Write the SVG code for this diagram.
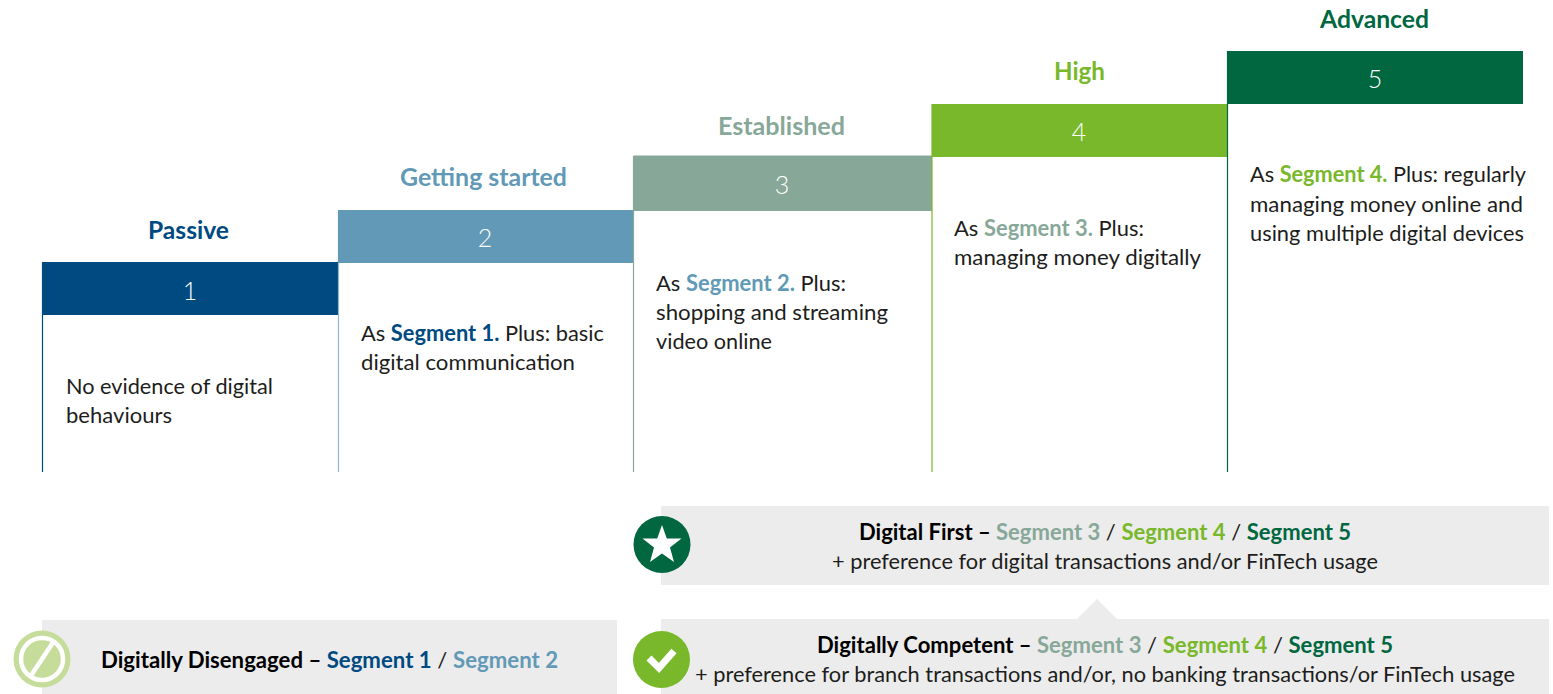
<svg xmlns="http://www.w3.org/2000/svg" width="1553" height="694" viewBox="0 0 1553 694">
<style>
text{font-family:"Lato","Noto Sans",sans-serif;font-size:22px;fill:#1d1d1b}
.b{font-weight:700}
.t{font-size:25px;font-weight:700}
.n{font-size:25px;fill:#fff;text-anchor:middle;font-weight:300}
.k{fill:#000;font-weight:700}
.c1{fill:#004a82}.c2{fill:#6199b6}.c3{fill:#87a898}.c4{fill:#78b82a}.c5{fill:#006741}
.band{fill:#ececec}
.s1{stroke:#004a82}.s2{stroke:#8fb6cb}.s3{stroke:#87a898}.s4{stroke:#78b82a}.s5{stroke:#006741}
.rule{stroke-width:1.2}
</style>
<g id="connectors"><polygon class="band" points="1076,620 1097,599 1118,620"/></g>
<g id="segment-1">
<line class="rule s1" x1="42.500" y1="263" x2="42.500" y2="472"/>
<rect class="c1" x="42" y="262" width="296" height="53"/>
<text class="t c1" x="148" y="239" textLength="81" lengthAdjust="spacingAndGlyphs">Passive</text>
<text class="n" x="190" y="300">1</text>
<text x="66" y="394" textLength="207" lengthAdjust="spacingAndGlyphs">No evidence of digital</text>
<text x="66" y="423" textLength="106" lengthAdjust="spacingAndGlyphs">behaviours</text>
</g>
<g id="segment-2">
<line class="rule s2" x1="338.500" y1="210" x2="338.500" y2="472"/>
<rect class="c2" x="338" y="210" width="296" height="53"/>
<text class="t c2" x="400" y="186" textLength="167" lengthAdjust="spacingAndGlyphs">Getting started</text>
<text class="n" x="485" y="247">2</text>
<text x="361" y="341" textLength="243" lengthAdjust="spacingAndGlyphs">As <tspan class="b c1">Segment 1.</tspan> Plus: basic</text>
<text x="361" y="370" textLength="214" lengthAdjust="spacingAndGlyphs">digital communication</text>
</g>
<g id="segment-3">
<line class="rule s3" x1="633.500" y1="156" x2="633.500" y2="472"/>
<rect class="c3" x="633.500" y="155.500" width="298.500" height="55.500"/>
<text class="t c3" x="718" y="135" textLength="127" lengthAdjust="spacingAndGlyphs">Established</text>
<text class="n" x="782" y="194">3</text>
<text x="656" y="291" textLength="190" lengthAdjust="spacingAndGlyphs">As <tspan class="b c2">Segment 2.</tspan> Plus:</text>
<text x="656" y="320" textLength="232" lengthAdjust="spacingAndGlyphs">shopping and streaming</text>
<text x="656" y="349" textLength="116" lengthAdjust="spacingAndGlyphs">video online</text>
</g>
<g id="segment-4">
<line class="rule s4" x1="932" y1="104" x2="932" y2="472"/>
<rect class="c4" x="932" y="104" width="295" height="53"/>
<text class="t c4" x="1054" y="80" textLength="51" lengthAdjust="spacingAndGlyphs">High</text>
<text class="n" x="1079" y="141">4</text>
<text x="954" y="236" textLength="190" lengthAdjust="spacingAndGlyphs">As <tspan class="b c3">Segment 3.</tspan> Plus:</text>
<text x="954" y="265" textLength="247" lengthAdjust="spacingAndGlyphs">managing money digitally</text>
</g>
<g id="segment-5">
<line class="rule s5" x1="1227.500" y1="51" x2="1227.500" y2="472"/>
<rect class="c5" x="1227" y="51" width="296" height="53"/>
<text class="t c5" x="1320" y="28" textLength="109" lengthAdjust="spacingAndGlyphs">Advanced</text>
<text class="n" x="1375" y="88">5</text>
<text x="1250" y="182" textLength="276" lengthAdjust="spacingAndGlyphs">As <tspan class="b c4">Segment 4.</tspan> Plus: regularly</text>
<text x="1250" y="212" textLength="273" lengthAdjust="spacingAndGlyphs">managing money online and</text>
<text x="1250" y="241" textLength="274" lengthAdjust="spacingAndGlyphs">using multiple digital devices</text>
</g>
<g id="digital-first">
<rect class="band" x="661" y="506" width="888" height="79"/>
<circle class="c5" cx="662" cy="544.500" r="28.500"/>
<polygon fill="#fff" points="662,525 666.800,538.500 681.500,538.500 670,547.500 674,562 662,553.500 650,562 654,547.500 642.500,538.500 657.200,538.500"/>
<text x="859" y="540" textLength="492" lengthAdjust="spacingAndGlyphs"><tspan class="k">Digital First – </tspan><tspan class="b c3">Segment 3</tspan> / <tspan class="b c4">Segment 4</tspan> / <tspan class="b c5">Segment 5</tspan></text>
<text x="832" y="569" textLength="546" lengthAdjust="spacingAndGlyphs">+ preference for digital transactions and/or FinTech usage</text>
</g>
<g id="digitally-competent">
<rect class="band" x="661" y="619" width="888" height="75"/>
<circle class="c4" cx="661.500" cy="659.500" r="28.500"/>
<polyline points="649,658 659,668 674,651" fill="none" stroke="#fff" stroke-width="7"/>
<text x="817" y="653" textLength="576" lengthAdjust="spacingAndGlyphs"><tspan class="k">Digitally Competent – </tspan><tspan class="b c3">Segment 3</tspan> / <tspan class="b c4">Segment 4</tspan> / <tspan class="b c5">Segment 5</tspan></text>
<text x="695" y="682" textLength="820" lengthAdjust="spacingAndGlyphs">+ preference for branch transactions and/or, no banking transactions/or FinTech usage</text>
</g>
<g id="digitally-disengaged">
<rect class="band" x="42" y="620" width="575" height="74"/>
<circle cx="42" cy="659" r="28.500" fill="#c5dc9b"/>
<circle cx="42" cy="659" r="21" fill="none" stroke="#fff" stroke-width="4.500"/>
<line x1="30" y1="677" x2="54" y2="641" stroke="#fff" stroke-width="4.500"/>
<text x="101" y="668" textLength="457" lengthAdjust="spacingAndGlyphs"><tspan class="k">Digitally Disengaged – </tspan><tspan class="b c1">Segment 1</tspan> / <tspan class="b c2">Segment 2</tspan></text>
</g>
</svg>
